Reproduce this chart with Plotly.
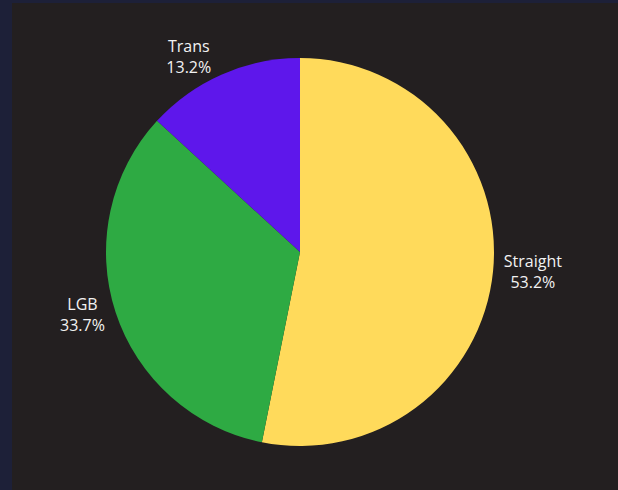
import plotly.graph_objects as go

labels = ["Straight", "LGB", "Trans"]
values = [53.2, 33.7, 13.2]
colors = ["#FFDA5B", "#2EAA43", "#5E17EB"]

W, H = 618, 490
cx, cy, r = 300, 252, 194

fig = go.Figure(go.Pie(
    labels=labels,
    values=values,
    sort=False,
    direction="clockwise",
    rotation=0,
    marker=dict(colors=colors, line=dict(width=0)),
    textposition="outside",
    texttemplate="%{label}<br>%{value:.1f}%",
    textfont=dict(family="Open Sans", size=16, color="#F2F2F2"),
    hoverinfo="label+value",
    showlegend=False,
    domain=dict(x=[(cx - r) / W, (cx + r) / W], y=[(H - cy - r) / H, (H - cy + r) / H]),
))

fig.update_layout(
    width=W, height=H,
    margin=dict(l=0, r=0, t=0, b=0),
    paper_bgcolor="#231F20",
    plot_bgcolor="#231F20",
    shapes=[
        dict(type="rect", xref="paper", yref="paper", x0=0, x1=12 / W, y0=0, y1=1,
             fillcolor="#1D2038", line=dict(width=0), layer="below"),
        dict(type="rect", xref="paper", yref="paper", x0=0, x1=1, y0=1 - 3 / H, y1=1,
             fillcolor="#1D2038", line=dict(width=0), layer="below"),
    ],
)

fig.write_html("out.html", config={"displayModeBar": False},
               post_script="document.body.style.margin='0';document.body.style.background='#231F20';")
